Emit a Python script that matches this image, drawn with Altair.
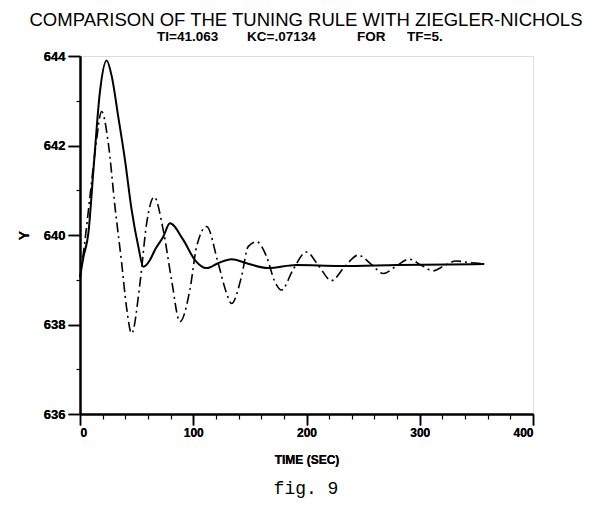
import altair as alt
import pandas as pd

# Solid curve (tuning rule)
solid_t = [0, 3, 7.4, 12, 17.6, 23.5, 28, 33.8, 39.7, 45.6, 51.5, 55.9, 61.8, 66, 73.5, 79.4,
           91.2, 101.5, 111.8, 122, 133.8, 147, 166, 191, 230, 280, 357]
solid_y = [639.05, 639.5, 640.04, 641.5, 643.2, 643.9, 643.55, 642.64, 641.68, 640.56, 639.74,
           639.29, 639.44, 639.66, 639.96, 640.26, 639.89, 639.44, 639.26, 639.37, 639.46, 639.37,
           639.26, 639.33, 639.31, 639.33, 639.35]

# Dash-dot curve (Ziegler-Nichols)
dd_t = [0, 4, 8.8, 14, 19.1, 25, 30.9, 36.8, 41, 45.6, 53, 58.9, 65.5, 73.5, 80.9, 88.2, 97,
        103, 111.8, 122, 129.4, 133.8, 142.6, 148.5, 155.9, 164.7, 172, 178, 188, 200, 211, 222,
        234, 245.6, 257, 267.7, 279, 290.6, 301, 311.8, 322, 332, 345, 357.5]
dd_y = [639.05, 639.8, 640.86, 642.0, 642.76, 642.05, 640.63, 639.37, 638.4, 637.8, 638.93,
        640.27, 640.85, 640.11, 638.99, 638.06, 638.77, 639.74, 640.19, 639.37, 638.7, 638.47,
        639.07, 639.74, 639.85, 639.52, 638.96, 638.77, 639.22, 639.62, 639.3, 638.98, 639.3,
        639.55, 639.35, 639.14, 639.3, 639.46, 639.33, 639.2, 639.32, 639.42, 639.38, 639.36]

x_major = [0, 100, 200, 300, 400]
x_minor = list(range(20, 400, 20))
y_major = [636, 638, 640, 642, 644]
y_minor = [637, 639, 641, 643]

title_text = "COMPARISON OF THE TUNING RULE WITH ZIEGLER-NICHOLS"
subtitle_parts = ["TI=41.063", "KC=.07134", "FOR", "TF=5."]
fig_text = "fig. 9"

df_solid = pd.DataFrame({"t": solid_t, "y": solid_y})
df_dd = pd.DataFrame({"t": dd_t, "y": dd_y})

FONT = "Liberation Sans"
xscale = alt.Scale(domain=[0, 400], nice=False)
yscale = alt.Scale(domain=[636, 644], nice=False, zero=False)

x_axis = alt.Axis(values=x_major, orient="bottom", title="TIME (SEC)", tickSize=11,
                  tickWidth=1.5, domainWidth=2, domainColor="black", tickColor="black",
                  labelFont=FONT, labelFontWeight="bold", labelFontSize=12, labelColor="black",
                  labelPadding=2, titleFont=FONT, titleFontWeight="bold", titleFontSize=12,
                  titleColor="black", titlePadding=16, grid=False)
y_axis = alt.Axis(values=y_major, orient="left", title="Y", tickSize=12, tickWidth=1.5,
                  domainWidth=2, domainColor="black", tickColor="black",
                  labelFont=FONT, labelFontWeight="bold", labelFontSize=13, labelColor="black",
                  labelPadding=3, titleFont=FONT, titleFontWeight="bold", titleFontSize=14,
                  titleColor="black", titlePadding=12, grid=False)

x_minor_axis = alt.Axis(values=x_minor, orient="bottom", title=None, labels=False, domain=False,
                        tickSize=5, tickWidth=1.2, tickColor="black", grid=False)
y_minor_axis = alt.Axis(values=y_minor, orient="left", title=None, labels=False, domain=False,
                        tickSize=4, tickWidth=1.2, tickColor="black", grid=False)

solid = alt.Chart(df_solid).mark_line(color="black", strokeWidth=2, interpolate="monotone").encode(
    x=alt.X("t:Q", scale=xscale, axis=x_axis),
    y=alt.Y("y:Q", scale=yscale, axis=y_axis),
)

dashdot = alt.Chart(df_dd).mark_line(color="black", strokeWidth=1.6, strokeDash=[10, 4, 2, 4],
                                     interpolate="monotone").encode(
    x=alt.X("t:Q", scale=xscale, axis=x_axis),
    y=alt.Y("y:Q", scale=yscale, axis=y_axis),
)

minor = alt.Chart(df_solid).mark_line(opacity=0).encode(
    x=alt.X("t:Q", scale=xscale, axis=x_minor_axis),
    y=alt.Y("y:Q", scale=yscale, axis=y_minor_axis),
)

one = pd.DataFrame({"a": [0]})
title_mark = alt.Chart(one).mark_text(font=FONT, fontSize=18.5, color="black", baseline="middle",
                                      align="center").encode(
    x=alt.value(226), y=alt.value(-36), text=alt.value(title_text))

sub_x = [77, 167, 277, 327]
sub_marks = [
    alt.Chart(one).mark_text(font=FONT, fontSize=13.5, fontWeight="bold", color="black",
                             baseline="middle", align="left").encode(
        x=alt.value(sx), y=alt.value(-19), text=alt.value(st))
    for sx, st in zip(sub_x, subtitle_parts)
]
fig_mark = alt.Chart(one).mark_text(font="Liberation Mono", fontSize=18, color="black",
                                    baseline="alphabetic", align="center").encode(
    x=alt.value(226), y=alt.value(438), text=alt.value(fig_text))

chart = alt.layer(minor, dashdot, solid, title_mark, *sub_marks, fig_mark).resolve_axis(
    x="independent", y="independent"
).properties(
    width=453, height=358,
    autosize=alt.AutoSizeParams(type="none"),
    padding={"left": 72, "top": 48, "right": 57, "bottom": 86},
).configure_view(stroke=None).configure(background="white")

chart.save("out.html", embed_options={"renderer": "svg", "actions": False})
